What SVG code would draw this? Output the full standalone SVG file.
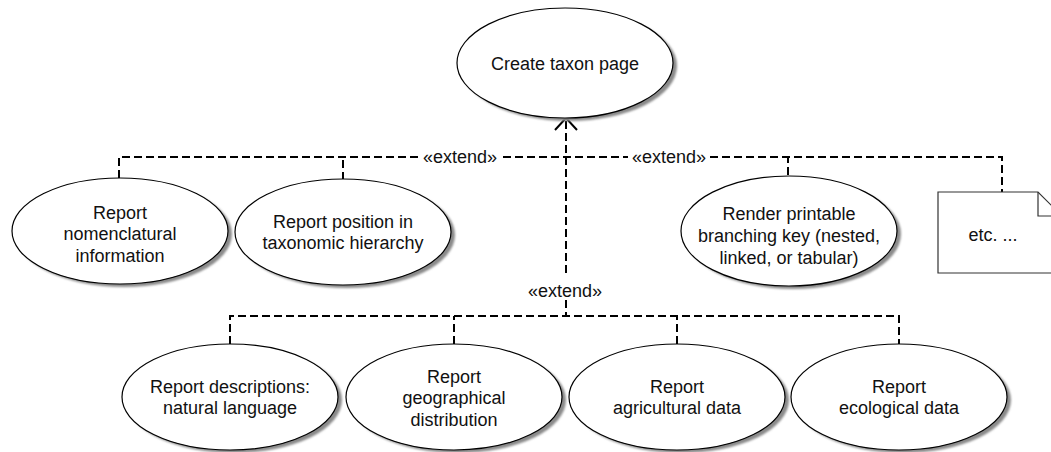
<svg xmlns="http://www.w3.org/2000/svg" width="1051" height="452" viewBox="0 0 1051 452">
<style>
  .uc { fill: #ffffff; stroke: #000000; stroke-width: 1.2; }
  .sh { fill: #8a8a8a; filter: url(#blur); }
  .t { font-family: "Liberation Sans", Arial, sans-serif; font-size: 18px; fill: #111111; text-anchor: middle; }
  .dash { fill: none; stroke: #000000; stroke-width: 2; stroke-dasharray: 8 4; }
  .note { fill: #ffffff; stroke: #333333; stroke-width: 1.2; }
</style>
<defs>
  <filter id="blur" x="-10%" y="-10%" width="120%" height="120%">
    <feGaussianBlur stdDeviation="1.2"/>
  </filter>
</defs>
<rect width="1051" height="452" fill="#ffffff"/>

<g id="connectors">
  <!-- top branch -->
  <path class="dash" d="M119,178 V157 H418"/>
  <path class="dash" d="M343,180 V157"/>
  <path class="dash" d="M503,157 H628"/>
  <path class="dash" d="M710,157 H1002 V192"/>
  <path class="dash" d="M788,175 V157"/>
  <!-- trunk -->
  <path class="dash" d="M566,121 V274"/>
  <path class="dash" d="M566,300 V316"/>
  <!-- bottom branch -->
  <path class="dash" d="M230,344 V316 H899 V344"/>
  <path class="dash" d="M454,344 V316"/>
  <path class="dash" d="M677,344 V316"/>
  <!-- arrowhead -->
  <path d="M555,130 L566,118 L577,130" fill="none" stroke="#000000" stroke-width="2"/>
  <text class="t" x="460" y="163">«extend»</text>
  <text class="t" x="669" y="163">«extend»</text>
  <text class="t" x="565" y="297">«extend»</text>
</g>

<g id="create-taxon-page">
  <ellipse class="sh" cx="569" cy="66" rx="108" ry="55"/>
  <ellipse class="uc" cx="565" cy="63" rx="108" ry="55"/>
  <text class="t" x="565" y="70">Create taxon page</text>
</g>

<g id="report-nomenclatural">
  <ellipse class="sh" cx="124" cy="234" rx="108" ry="53"/>
  <ellipse class="uc" cx="120" cy="231" rx="108" ry="53"/>
  <text class="t" x="120" y="219">Report</text>
  <text class="t" x="120" y="240">nomenclatural</text>
  <text class="t" x="120" y="262">information</text>
</g>

<g id="report-position">
  <ellipse class="sh" cx="347" cy="235" rx="108" ry="53"/>
  <ellipse class="uc" cx="343" cy="232" rx="108" ry="53"/>
  <text class="t" x="343" y="228">Report position in</text>
  <text class="t" x="343" y="249">taxonomic hierarchy</text>
</g>

<g id="render-key">
  <ellipse class="sh" cx="793" cy="234" rx="108" ry="55"/>
  <ellipse class="uc" cx="789" cy="231" rx="108" ry="55"/>
  <text class="t" x="789" y="220">Render printable</text>
  <text class="t" x="789" y="242">branching key (nested,</text>
  <text class="t" x="789" y="264">linked, or tabular)</text>
</g>

<g id="note-etc">
  <path class="note" d="M938,192 H1038 L1062,216 V273 H938 Z"/>
  <path d="M1038,192 V216 H1062" fill="none" stroke="#333333" stroke-width="1.2"/>
  <text class="t" x="993" y="241">etc. ...</text>
</g>

<g id="report-descriptions">
  <ellipse class="sh" cx="234" cy="400" rx="108" ry="53"/>
  <ellipse class="uc" cx="230" cy="397" rx="108" ry="53"/>
  <text class="t" x="230" y="393">Report descriptions:</text>
  <text class="t" x="230" y="414">natural language</text>
</g>

<g id="report-geographical">
  <ellipse class="sh" cx="458" cy="400" rx="108" ry="53"/>
  <ellipse class="uc" cx="454" cy="397" rx="108" ry="53"/>
  <text class="t" x="454" y="383">Report</text>
  <text class="t" x="454" y="404">geographical</text>
  <text class="t" x="454" y="426">distribution</text>
</g>

<g id="report-agricultural">
  <ellipse class="sh" cx="681" cy="400" rx="108" ry="53"/>
  <ellipse class="uc" cx="677" cy="397" rx="108" ry="53"/>
  <text class="t" x="677" y="393">Report</text>
  <text class="t" x="677" y="414">agricultural data</text>
</g>

<g id="report-ecological">
  <ellipse class="sh" cx="903" cy="400" rx="108" ry="53"/>
  <ellipse class="uc" cx="899" cy="397" rx="108" ry="53"/>
  <text class="t" x="899" y="393">Report</text>
  <text class="t" x="899" y="414">ecological data</text>
</g>
</svg>
